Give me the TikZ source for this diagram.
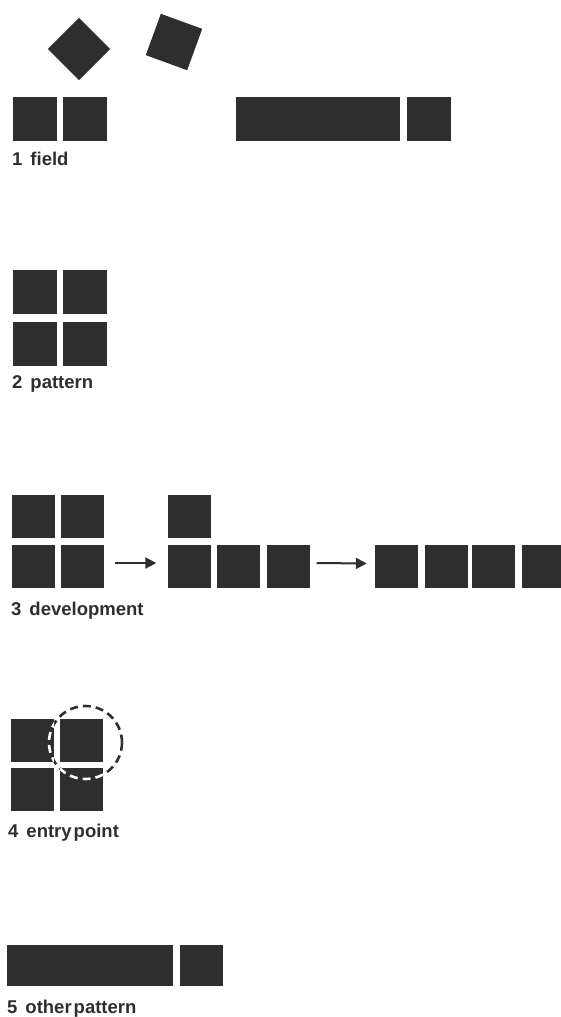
\documentclass[tikz,border=0pt]{standalone}
\usepackage{fontspec}
\setmainfont{Liberation Sans}
\usepackage{tikz}
\usetikzlibrary{positioning,arrows.meta}
\definecolor{BlockDark}{HTML}{2E2E2E}
\newcommand{\numgap}{\hspace{8pt}}

\begin{document}
\begin{tikzpicture}[x=1pt,y=-1pt,
    every node/.style={font=\bfseries\fontsize{18.5}{22}\selectfont},
    blk/.style={fill=BlockDark,inner sep=0pt,minimum width=43pt,minimum height=43pt},
    lbl/.style={anchor=base west,inner sep=0pt,text=BlockDark},
    ar/.style={-{Triangle[length=11pt,width=11pt]},line width=2pt,BlockDark},
    dsh/.style={line width=2.6pt,dash pattern=on 8pt off 5pt}]
  \clip (0,0) rectangle (561,1017);
  % 1 field
  \node[blk,minimum size=44pt,rotate=45] (d1) at (79,49) {};
  \node[blk,minimum size=44pt,rotate=-20] (d2) at (174,42) {};
  \node[blk,minimum size=44pt] (f1) at (35,119) {};
  \node[blk,minimum size=44pt] (f2) at (85,119) {};
  \node[blk,minimum width=164pt,minimum height=44pt] (f3) at (318,119) {};
  \node[blk,minimum size=44pt] (f4) at (429,119) {};
  \node[lbl] (t1) at (12,165) {1\numgap field};
  % 2 pattern
  \node[blk,minimum size=44pt] (p1) at (34.5,292) {};
  \node[blk,minimum size=44pt] (p2) at (84.5,292) {};
  \node[blk,minimum size=44pt] (p3) at (34.5,343.5) {};
  \node[blk,minimum size=44pt] (p4) at (84.5,343.5) {};
  \node[lbl] (t2) at (12,388) {2\numgap pattern};
  % 3 development
  \node[blk] (g1) at (33.5,516) {};
  \node[blk] (g2) at (82.5,516) {};
  \node[blk] (g3) at (33.5,566) {};
  \node[blk] (g4) at (82.5,566) {};
  \node[blk] (m1) at (189,516) {};
  \node[blk] (m2) at (189,566) {};
  \node[blk] (m3) at (238.5,566) {};
  \node[blk] (m4) at (288,566) {};
  \node[blk] (r1) at (396.5,566.5) {};
  \node[blk] (r2) at (446,566.5) {};
  \node[blk] (r3) at (493.5,566.5) {};
  \node[blk] (r4) at (543.5,566.5) {};
  \draw[ar] ([xshift=11pt,yshift=3pt]g4.east) -- ([xshift=-11pt,yshift=3pt]m2.west);
  \draw[ar] ([xshift=7pt,yshift=3pt]m4.east) -- ([xshift=-8pt,yshift=3pt]r1.west);
  \node[lbl] (t3) at (11,615) {3\numgap development};
  % 4 entry point
  \node[blk] (e1) at (32.5,740.5) {};
  \node[blk] (e2) at (81.5,740.5) {};
  \node[blk] (e3) at (32.5,789.5) {};
  \node[blk] (e4) at (81.5,789.5) {};
  \coordinate (ep) at (85.5,742.5);
  \draw[dsh,BlockDark] (ep) circle[radius=36.5pt];
  \begin{scope}
    \clip (e1.south west) rectangle (e1.north east)
          (e2.south west) rectangle (e2.north east)
          (e4.south west) rectangle (e4.north east);
    \draw[dsh,white] (ep) circle[radius=36.5pt];
  \end{scope}
  \node[lbl] (t4) at (8,837) {4\numgap entry\hspace{2pt}point};
  % 5 other pattern
  \node[blk,minimum width=166pt,minimum height=41pt] (o1) at (90,965.5) {};
  \node[blk,minimum height=41pt] (o2) at (201.5,965.5) {};
  \node[lbl] (t5) at (7,1013) {5\numgap other\hspace{2pt}pattern};
\end{tikzpicture}
\end{document}
